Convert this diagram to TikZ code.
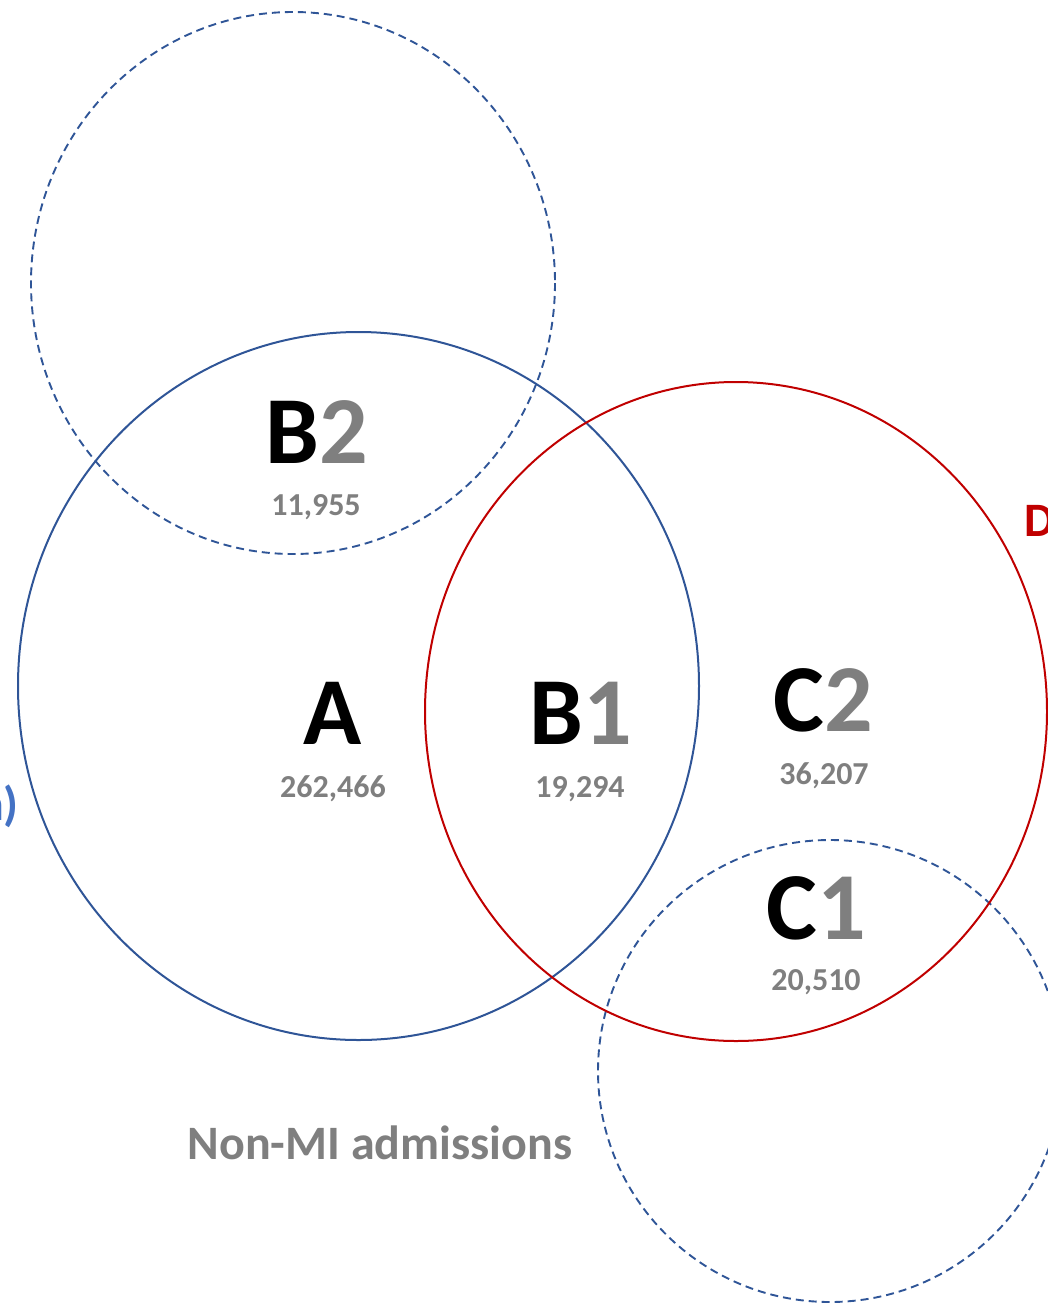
\documentclass[tikz,border=0pt]{standalone}
\usepackage{fontspec}
\setmainfont{Carlito}
\definecolor{dblue}{HTML}{2F5597}
\definecolor{lblue}{HTML}{4472C4}
\definecolor{dred}{HTML}{C00000}
\definecolor{tgray}{HTML}{7F7F7F}
\tikzset{
  big/.style={inner sep=0pt, font=\bfseries\fontsize{96}{96}\selectfont},
  num/.style={inner sep=0pt, text=tgray, font=\bfseries\fontsize{32}{32}\selectfont},
  lab/.style={inner sep=0pt, font=\bfseries\fontsize{48}{48}\selectfont},
  solidset/.style={line width=2pt},
  dashedset/.style={line width=1.9pt, dash pattern=on 8pt off 5pt, draw=dblue}
}
\newcommand{\twotone}[2]{{\color{black}#1}{\color{tgray}#2}}
\begin{document}
\begin{tikzpicture}[x=1pt,y=-1pt]
\useasboundingbox (0,0) rectangle (1048,1304);
\clip (0,0) rectangle (1048,1304);
% circles
\draw[dashedset] (293,283) ellipse [x radius=262, y radius=271];
\draw[dashedset] (830,1071) ellipse [x radius=232, y radius=231];
\draw[solidset, draw=dblue] (358.5,686) ellipse [x radius=340.5, y radius=354];
\draw[solidset, draw=dred] (736,711.5) ellipse [x radius=311, y radius=329.5];
% labels
\node[big] (b2) at (317,432) {\twotone{B}{2}};
\node[num] (b2n) at (316,507) {11,955};
\node[big] (a) at (333,713) {A};
\node[num] (an) at (333,789) {262,466};
\node[big] (b1) at (581,713) {\twotone{B}{1}};
\node[num] (b1n) at (580,789) {19,294};
\node[big] (c2) at (823,700) {\twotone{C}{2}};
\node[num] (c2n) at (824,776) {36,207};
\node[big] (c1) at (816,908) {\twotone{C}{1}};
\node[num] (c1n) at (816,982) {20,510};
\node[lab, text=tgray] (nonmi) at (380,1143) {Non-MI admissions};
\node[lab, text=dred, anchor=west] (d) at (1024,521) {D};
\node[lab, text=lblue, anchor=east] (paren) at (19,806) {n)};
\end{tikzpicture}
\end{document}
